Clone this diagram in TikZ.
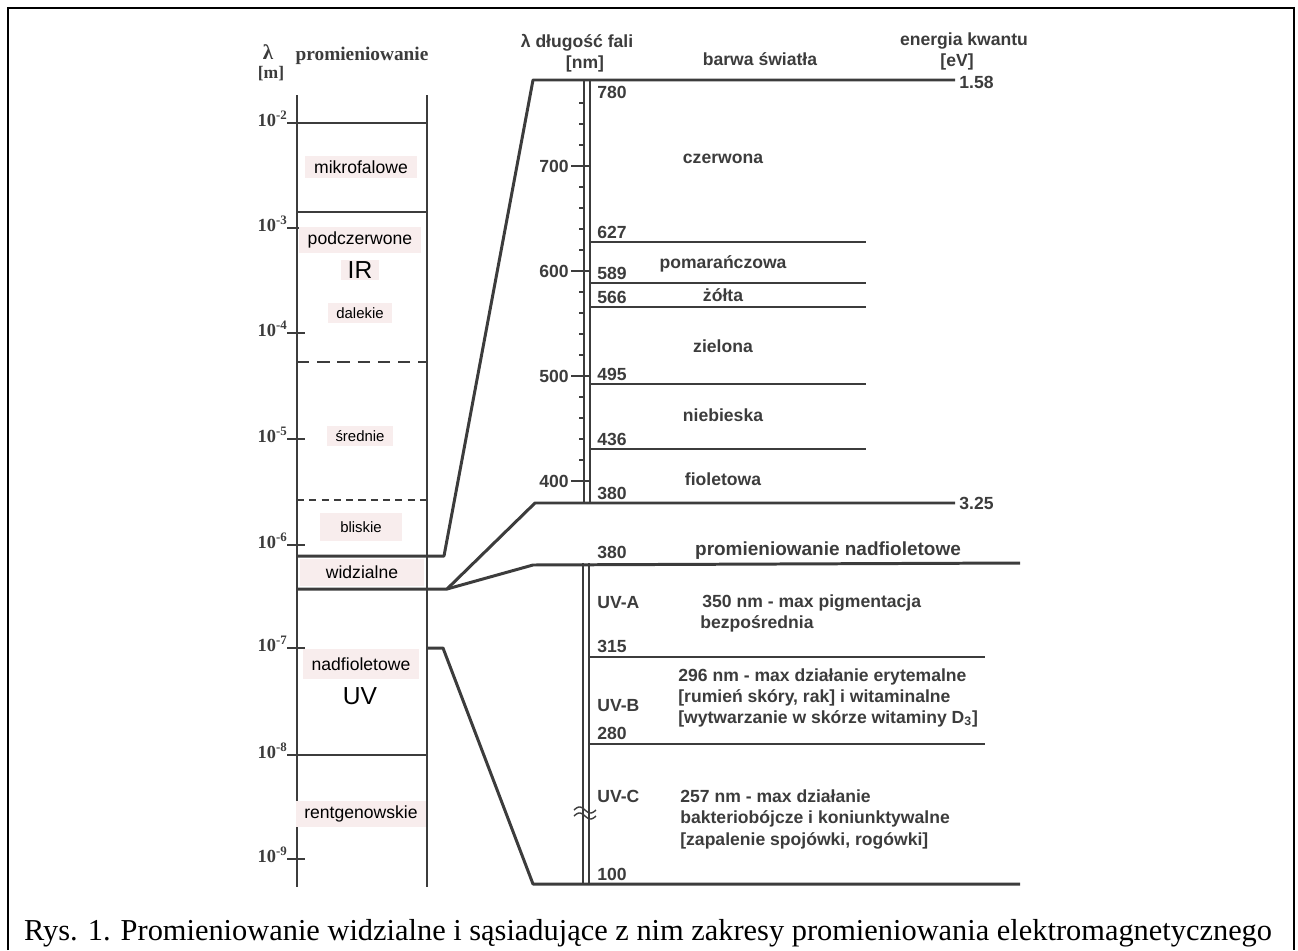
\documentclass[tikz,border=0pt]{standalone}
\usepackage{fontspec}
\setmainfont{Liberation Serif}
\newfontfamily\arialfont{Liberation Sans}
\usetikzlibrary{positioning}
\definecolor{linegray}{HTML}{3C3C3C}
\definecolor{labelpink}{HTML}{F8EDED}
\tikzset{thickline/.style={draw=linegray,line width=1.4pt},thinline/.style={draw=linegray,line width=0.8pt},hairline/.style={draw=linegray,line width=0.6pt},slantline/.style={draw=linegray,line width=1.7pt,line join=round}}
\tikzset{regionlabel/.style={fill=labelpink,font=\arialfont\fontsize{10}{12}\selectfont,inner xsep=5pt,inner ysep=2.5pt},subregion/.style={regionlabel,font=\arialfont\fontsize{8.5}{10}\selectfont},biglabel/.style={font=\arialfont\fontsize{14}{16}\selectfont,inner sep=1pt},scantext/.style={font=\arialfont\bfseries\fontsize{10}{12}\selectfont,text=linegray,inner sep=0pt},exptext/.style={font=\bfseries\fontsize{10.5}{12}\selectfont,text=linegray,inner sep=0pt,anchor=east}}
\begin{document}
\begin{tikzpicture}[x=0.02cm,y=-0.02cm]
\useasboundingbox (0,0) rectangle (1298,950);
\draw[line width=1.1pt] (8,950) -- (8,8) -- (1294,8) -- (1294,950);
% left column: wavelength in m
\node[font=\bfseries\fontsize{12}{14}\selectfont,text=linegray] (lam) at (268,52) {λ};
\node[font=\bfseries\fontsize{10}{12}\selectfont,text=linegray] (unitm) at (271,74) {[m]};
\node[font=\bfseries\fontsize{11}{13}\selectfont,text=linegray,anchor=base] (promhead) at (362,60) {promieniowanie};
\draw[thickline] (297,95) -- (297,887);
\draw[thickline] (427,95) -- (427,887);
\foreach \y in {123,212,755} \draw[thinline] (297,\y) -- (427,\y);
\draw[thinline,dash pattern=on 7pt off 4.5pt] (297,362) -- (427,362);
\draw[hairline,dash pattern=on 4pt off 3pt] (297,500) -- (427,500);
\foreach \y/\e in {123/2,228/3,333/4,439/5,545/6,648/7,755/8,859/9}{
  \draw[thinline] (287,\y) -- (305,\y);
  \node[exptext] at (288,\y-4) {10\textsuperscript{-\e}};
}
\node[regionlabel] (mikro) at (361,167) {mikrofalowe};
\node[regionlabel] (podcz) at (360,240) {podczerwone};
\node[regionlabel,biglabel,inner xsep=4pt] (ir) at (360,270) {IR};
\node[subregion] (dalekie) at (360,313) {dalekie};
\node[subregion] (srednie) at (360,436) {średnie};
\node[subregion,minimum width=1.66cm,minimum height=0.55cm] (bliskie) at (361,527) {bliskie};
\node[regionlabel,minimum width=2.5cm,minimum height=0.54cm] (widz) at (362,572) {widzialne};
\node[regionlabel,inner ysep=5pt] (nadf) at (361,664) {nadfioletowe};
\node[biglabel] (uv) at (360,696) {UV};
\node[regionlabel] (rentg) at (361,814) {rentgenowskie};
% boundaries to the zoomed scales
\coordinate (irLow) at (444,556);
\coordinate (visLow) at (447,589);
\coordinate (uvHigh) at (443,648);
\draw[slantline] (297,556) -- (irLow) -- (533,80) -- (955,80);
\draw[slantline] (297,589) -- (visLow) -- (535,503) -- (955,503);
\draw[slantline] (visLow) -- (533,565) -- (1020,563);
\draw[slantline] (427,648) -- (uvHigh) -- (533,884) -- (1020,884);
% visible scale in nm
\node[scantext,anchor=base] (nmhead) at (577,47) {λ długość fali};
\node[scantext,anchor=base] (nmunit) at (585,68) {[nm]};
\node[scantext,anchor=base] (colhead) at (760,65) {barwa światła};
\node[scantext,anchor=base] (evhead) at (964,45) {energia kwantu};
\node[scantext,anchor=base] (evunit) at (957,66) {[eV]};
\node[scantext,anchor=west] (evred) at (959,82) {1.58};
\node[scantext,anchor=west] (evviol) at (959,503) {3.25};
\draw[thinline] (584,80) -- (584,503);
\draw[thinline] (590,80) -- (590,503);
\foreach \l in {760,740,720,680,660,640,620,580,560,540,520,480,460,440,420}{
  \pgfmathsetmacro\yy{166+(700-\l)*1.05}
  \draw[hairline] (579,\yy) -- (584,\yy);
}
\foreach \l in {700,600,500,400}{
  \pgfmathsetmacro\yy{166+(700-\l)*1.05}
  \draw[thinline] (571,\yy) -- (590,\yy);
  \node[scantext,anchor=east] at (569,\yy) {\l};
}
\node[scantext,anchor=base west] (n780) at (597,98) {780};
\node[scantext,anchor=base west] (n380) at (597,499) {380};
\foreach \y/\n in {242/627,283/589,307/566,384/495,449/436}{
  \draw[hairline] (590,\y) -- (866,\y);
  \node[scantext,anchor=base west] at (597,\y-4) {\n};
}
\foreach \y/\c in {163/czerwona,268/pomarańczowa,301/żółta,352/zielona,421/niebieska,485/fioletowa}
  \node[scantext,anchor=base] at (723,\y) {\c};
% ultraviolet scale
\node[scantext,anchor=base west] (u380) at (597,558) {380};
\node[scantext,anchor=base,font=\arialfont\bfseries\fontsize{10.8}{12}\selectfont] (uvhead) at (828,555) {promieniowanie nadfioletowe};
\draw[thinline] (583,563) -- (583,884);
\draw[thinline] (589,563) -- (589,884);
\draw[thinline] plot[domain=0:1,samples=25] ({574+22*\x},{810-3*sin(360*\x)});
\draw[thinline] plot[domain=0:1,samples=25] ({574+22*\x},{816-3*sin(360*\x)});
\draw[thinline] (589,657) -- (985,657);
\draw[thinline] (589,744) -- (985,744);
\node[scantext,anchor=base west] (uva) at (597,608) {UV-A};
\node[scantext,anchor=base west] (uvatxt) at (702,607) {350 nm - max pigmentacja};
\node[scantext,anchor=base west] (uvatxtb) at (700,628) {bezpośrednia};
\node[scantext,anchor=base west] (u315) at (597,652) {315};
\node[scantext,anchor=base west] (uvb) at (597,711) {UV-B};
\node[scantext,anchor=base west] (uvbtxt) at (678,681) {296 nm - max działanie erytemalne};
\node[scantext,anchor=base west] (uvbtxtb) at (678,702) {[rumień skóry, rak] i witaminalne};
\node[scantext,anchor=base west] (uvbtxtc) at (678,723) {[wytwarzanie w skórze witaminy D\textsubscript{3}]};
\node[scantext,anchor=base west] (u280) at (597,739) {280};
\node[scantext,anchor=base west] (uvc) at (597,802) {UV-C};
\node[scantext,anchor=base west] (uvctxt) at (680,802) {257 nm - max działanie};
\node[scantext,anchor=base west] (uvctxtb) at (680,823) {bakteriobójcze i koniunktywalne};
\node[scantext,anchor=base west] (uvctxtc) at (680,845) {[zapalenie spojówki, rogówki]};
\node[scantext,anchor=base west] (u100) at (597,880) {100};
% caption
\node[font=\fontsize{17.3}{19}\selectfont,anchor=base,inner sep=0pt] (caption) at (648,940) {Rys. 1. Promieniowanie widzialne i sąsiadujące z nim zakresy promieniowania elektromagnetycznego};
\end{tikzpicture}
\end{document}
